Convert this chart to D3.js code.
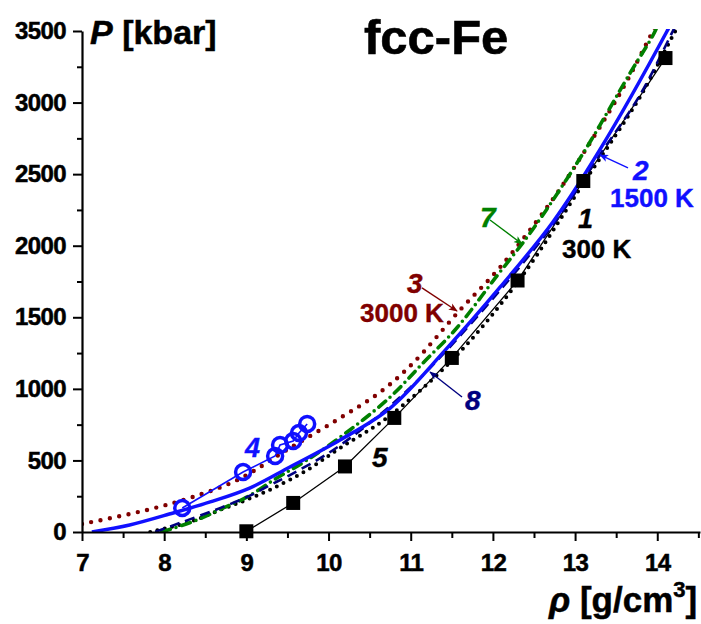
<!DOCTYPE html>
<html>
<head>
<meta charset="utf-8">
<script src="https://cdn.jsdelivr.net/npm/d3@7"></script>
<style>
  body { margin: 0; background: #fff; }
  text { font-family: "Liberation Sans", Arial, Helvetica, sans-serif; }
</style>
</head>
<body>
<svg id="chart" width="701" height="624"></svg>
<script>
// tick values
const xMajor = [7, 8, 9, 10, 11, 12, 13, 14];
const xMinor = [7.5, 8.5, 9.5, 10.5, 11.5, 12.5, 13.5, 14.5];
const yMajor = [0, 500, 1000, 1500, 2000, 2500, 3000, 3500];
const yMinor = [250, 750, 1250, 1750, 2250, 2750, 3250];

// curves, [rho g/cm3, P kbar]
const curve1 = [[7.83,0],[8.31,70],[8.68,154],[9.0,224],[9.33,307],[9.74,433],[10.14,587],[10.71,797],
  [11.53,1216],[12.32,1760],[13.12,2452],[13.79,3039],[14.22,3500],[14.3,3580]];
const curve2 = [[7.12,0],[7.58,49],[8.11,133],[8.56,210],[9.04,307],[9.53,454],[10.14,643],[10.75,866],
  [11.42,1271],[12.09,1712],[12.73,2166],[13.3,2669],[14.12,3500],[14.2,3590]];
const curve3 = [[7.0,56],[7.79,154],[8.31,238],[8.89,363],[9.53,587],[10.14,796],[10.63,978],[11.03,1181],
  [11.6,1551],[12.09,1851],[12.66,2270],[12.97,2529],[13.55,3067],[13.91,3458],[14.0,3560]];
const curve7 = [[7.97,0],[8.4,84],[8.72,168],[9.01,245],[9.37,377],[9.74,503],[10.26,713],[10.75,943],
  [11.15,1181],[11.56,1425],[12.03,1775],[12.48,2110],[13.1,2648],[13.67,3207],[13.95,3472],[14.02,3560]];
const curve8 = [[7.89,0],[8.19,63],[8.62,154],[9.01,245],[9.29,328],[9.53,398],[10.02,559],[10.5,761],
  [10.99,1006],[11.42,1258],[12.09,1691],[12.73,2145],[13.3,2634],[13.79,3053],[14.19,3500],[14.26,3580]];
// experiment: circles (4) and squares (5)
const points4 = [[8.22,168],[8.96,419],[9.35,531],[9.41,608],[9.57,636],[9.64,692],[9.74,755]];
const points5 = [[9.0,5],[9.57,203],[10.2,458],[10.8,797],[11.5,1216],[12.3,1757],[13.1,2452],[14.1,3311]];

const blue = "#1010ff", red = "#800000", green = "#008000", navy = "#000080";

const svg = d3.select("#chart");
const x = d3.scaleLinear().domain([7, 14.52]).range([82, 700]);
const y = d3.scaleLinear().domain([0, 3500]).range([532, 31]);

const defs = svg.append("defs");
defs.append("clipPath").attr("id", "plot")
  .append("rect").attr("x", 82).attr("y", 29).attr("width", 620).attr("height", 503);

[["a-blue", blue], ["a-red", red], ["a-green", green], ["a-navy", navy]].forEach(([id, c]) => {
  defs.append("marker").attr("id", id)
    .attr("viewBox", "0 0 10 10").attr("refX", 9).attr("refY", 5)
    .attr("markerWidth", 9).attr("markerHeight", 9).attr("markerUnits", "userSpaceOnUse")
    .attr("orient", "auto")
    .append("path").attr("d", "M0,1 L10,5 L0,9 L2.5,5 z").attr("fill", c);
});

const line = d3.line().x(d => x(d[0])).y(d => y(d[1])).curve(d3.curveCatmullRom.alpha(0.5));
const straight = d3.line().x(d => x(d[0])).y(d => y(d[1]));

const plot = svg.append("g").attr("clip-path", "url(#plot)");

// thin line through squares
plot.append("path").attr("d", straight(points5))
  .attr("fill", "none").attr("stroke", "#000").attr("stroke-width", 1.3);

plot.append("path").attr("d", line(curve1))
  .attr("fill", "none").attr("stroke", "#000").attr("stroke-width", 4)
  .attr("stroke-linecap", "round").attr("stroke-dasharray", "0 7.5");

plot.append("path").attr("d", line(curve3))
  .attr("fill", "none").attr("stroke", red).attr("stroke-width", 4.4)
  .attr("stroke-linecap", "round").attr("stroke-dasharray", "0 9.5");

plot.append("path").attr("d", line(curve7))
  .attr("fill", "none").attr("stroke", green).attr("stroke-width", 3.6)
  .attr("stroke-linecap", "round").attr("stroke-dasharray", "9 6 0 6");

plot.append("path").attr("d", line(curve8))
  .attr("fill", "none").attr("stroke", navy).attr("stroke-width", 2.6)
  .attr("stroke-dasharray", "10 6");

plot.append("path").attr("d", line(curve2))
  .attr("fill", "none").attr("stroke", blue).attr("stroke-width", 3.5);

// circles with thin line
svg.append("path").attr("d", straight(points4))
  .attr("fill", "none").attr("stroke", blue).attr("stroke-width", 1.6);
svg.append("g").selectAll("circle").data(points4).join("circle")
  .attr("cx", d => x(d[0])).attr("cy", d => y(d[1])).attr("r", 7.5)
  .attr("fill", "none").attr("stroke", blue).attr("stroke-width", 3.5);

svg.append("g").selectAll("rect").data(points5).join("rect")
  .attr("x", d => x(d[0]) - 7).attr("y", d => y(d[1]) - 7)
  .attr("width", 14).attr("height", 14).attr("fill", "#000");

// axes
svg.append("g").attr("transform", "translate(82,0)")
  .call(d3.axisLeft(y).tickValues(yMajor).tickSize(9).tickSizeOuter(0).tickPadding(7).tickFormat(d3.format("d")));
svg.append("g").attr("transform", "translate(82,0)")
  .call(d3.axisLeft(y).tickValues(yMinor).tickSize(5).tickSizeOuter(0).tickFormat(""))
  .select(".domain").remove();

svg.append("g").attr("transform", "translate(0,532)")
  .call(d3.axisBottom(x).tickValues(xMajor).tickSize(9).tickSizeOuter(0).tickPadding(13).tickFormat(d3.format("d")));
svg.append("g").attr("transform", "translate(0,532)")
  .call(d3.axisBottom(x).tickValues(xMinor).tickSize(6).tickSizeOuter(0).tickFormat(""))
  .select(".domain").remove();

svg.selectAll(".domain").attr("stroke-width", 2.2);
svg.selectAll(".tick line").attr("stroke-width", 2);
svg.selectAll(".tick text").attr("font-size", 24).attr("font-weight", "bold")
  .attr("letter-spacing", -0.6)
  .attr("stroke", "#000").attr("stroke-width", 0.5)
  .attr("font-family", "'Liberation Sans', Arial, sans-serif").attr("fill", "#000");

// titles
const pt = svg.append("text").attr("x", 90).attr("y", 44).attr("font-size", 34).attr("font-weight", "bold")
  .attr("stroke", "#000").attr("stroke-width", 0.5);
pt.append("tspan").attr("font-style", "italic").text("P");
pt.append("tspan").text(" [kbar]");

svg.append("text").attr("x", 364).attr("y", 54).attr("font-size", 49).attr("font-weight", "bold")
  .attr("stroke", "#000").attr("stroke-width", 0.6).text("fcc-Fe");

const rt = svg.append("text").attr("x", 549).attr("y", 612).attr("font-size", 35).attr("font-weight", "bold")
  .attr("stroke", "#000").attr("stroke-width", 0.5);
rt.append("tspan").attr("font-style", "italic").text("ρ");
rt.append("tspan").text(" [g/cm");
rt.append("tspan").attr("font-size", 22).attr("dy", -15).text("3");
rt.append("tspan").attr("dy", 15).text("]");

// curve labels (positions in data units)
function label(r, p, txt, color, italic, size) {
  svg.append("text").attr("x", x(r)).attr("y", y(p)).attr("fill", color)
    .attr("font-size", size).attr("font-weight", "bold")
    .attr("stroke", color).attr("stroke-width", 0.4)
    .attr("font-style", italic ? "italic" : "normal").text(txt);
}
function arrow(r1, p1, r2, p2, color, id) {
  svg.append("line").attr("x1", x(r1)).attr("y1", y(p1)).attr("x2", x(r2)).attr("y2", y(p2))
    .attr("stroke", color).attr("stroke-width", 1.4).attr("marker-end", `url(#${id})`);
}

label(13.035, 2125, "1", "#000", true, 27);
label(12.84, 1914, "300 K", "#000", false, 26);
label(13.705, 2459, "2", blue, true, 28);
label(13.425, 2270, "1500 K", blue, false, 26);
arrow(13.644, 2543, 13.303, 2634, blue, "a-blue");
label(10.955, 1670, "3", red, true, 28);
label(10.383, 1467, "3000 K", red, false, 26);
arrow(11.137, 1705, 11.563, 1544, red, "a-red");
label(11.843, 2131, "7", green, true, 28);
arrow(11.965, 2180, 12.354, 2012, green, "a-green");
label(11.66, 852, "8", navy, true, 28);
arrow(11.624, 943, 11.235, 1118, navy, "a-navy");
label(10.529, 454, "5", "#000", true, 28);
label(8.983, 524, "4", blue, true, 27);
</script>
</body>
</html>
